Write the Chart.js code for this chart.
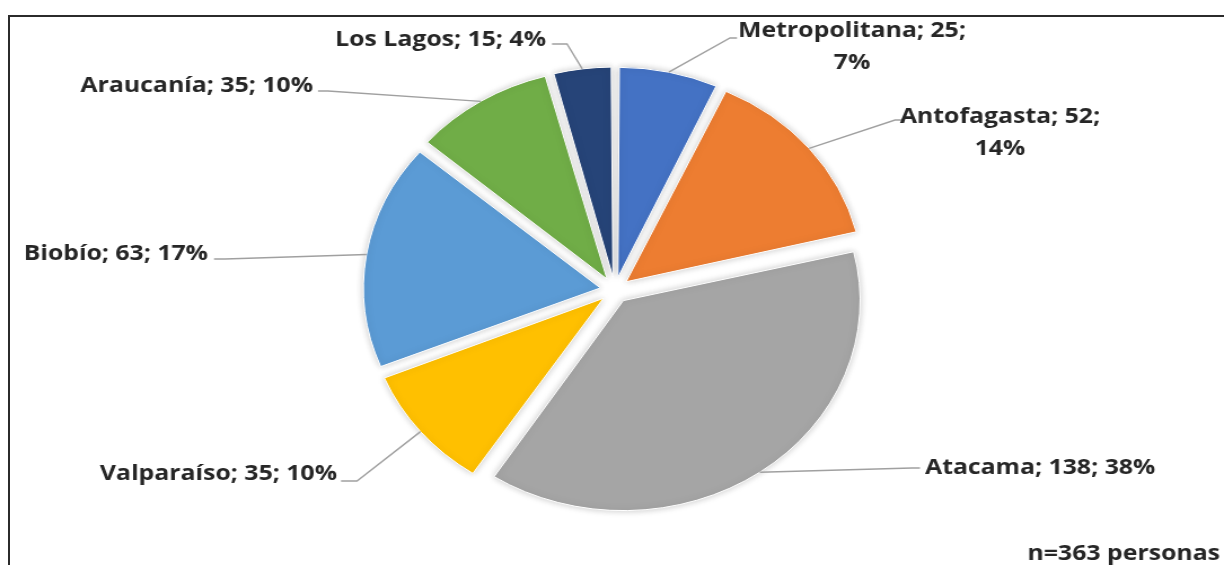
<!DOCTYPE html>
<html>
<head>
<meta charset="utf-8">
<script src="https://cdn.jsdelivr.net/npm/chart.js@4"></script>
<style>
html,body{margin:0;padding:0;background:#fff;width:1224px;height:565px;overflow:hidden}
#frame{position:absolute;left:8px;top:15px;width:1300px;height:700px;border-left:2px solid #2b2b2b;border-top:2px solid #2b2b2b}
#wrap{position:absolute;left:0;top:0;width:1085px;height:565px;transform:scaleX(1.1281);transform-origin:0 0}
</style>
</head>
<body>
<div id="frame"></div>
<div id="wrap"><canvas id="pie"></canvas></div>
<script>
// regiones, en el orden de la torta (desde arriba, sentido horario)
let regions=["Metropolitana","Antofagasta","Atacama","Valparaíso","Biobío","Araucanía","Los Lagos"]
let counts=[25,52,138,35,63,35,15]
let colors=["#4472C4","#ED7D31","#A5A5A5","#FFC000","#5B9BD5","#70AD47","#264478"]
let note="n=363 personas"

// the picture is stretched sideways, so the whole canvas is too
let s=1224/1085
let R=210

// where each label sits, in page pixels (b = baseline of first line)
let labelLayout=[
{tx:852,b:37,align:"center",wrap:true,kx:730,ky:38,ex:737,ey:38},
{tx:1000,b:123,align:"center",wrap:true,kx:895,ky:120,ex:902,ey:120},
{tx:925,b:474,align:"left",kx:912,ky:468,ex:920,ey:468},
{tx:337,b:480,align:"right",kx:357,ky:481,ex:341,ey:481},
{tx:208,b:260,align:"right",kx:225,ky:259,ex:214,ey:259},
{tx:313,b:92,align:"right",kx:328,ky:91,ex:318,ey:91},
{tx:546,b:46,align:"right",kx:567,ky:44,ex:552,ey:44}
]

let total=counts.reduce((a,b)=>a+b,0)

let sliceLabels={
id:"sliceLabels",
afterDatasetUpdate(chart,args){
// chart.js grows small exploded slices; keep every slice at the same radius
args.meta.data.forEach(arc=>{
let off=(arc.options.offset||0)/4
let fix=1-Math.sin(Math.min(Math.PI,arc.circumference))
arc.outerRadius=R-off*fix
})
},
beforeDatasetsDraw(chart){
let ctx=chart.ctx
ctx.save()
ctx.shadowColor="rgba(0,0,0,0.22)"
ctx.shadowBlur=7
},
afterDatasetsDraw(chart){
let ctx=chart.ctx
ctx.restore()
let meta=chart.getDatasetMeta(0)
ctx.save()
ctx.font="bold 22px 'Open Sans'"
ctx.fillStyle="#262626"
meta.data.forEach((arc,i)=>{
let p=arc.getProps(["x","y","startAngle","endAngle"])
let mid=(p.startAngle+p.endAngle)/2
let r=R+arc.options.offset/4
let ax=p.x+Math.cos(mid)*r
let ay=p.y+Math.sin(mid)*r
let L=labelLayout[i]
ctx.strokeStyle="#a0a0a0"
ctx.lineWidth=1.4
ctx.beginPath()
ctx.moveTo(ax,ay)
ctx.lineTo(L.kx/s,L.ky)
ctx.lineTo(L.ex/s,L.ey)
ctx.stroke()
let pct=Math.round(counts[i]/total*100)
let lines=L.wrap?[regions[i]+"; "+counts[i]+";",pct+"%"]:[regions[i]+"; "+counts[i]+"; "+pct+"%"]
ctx.textAlign=L.align
ctx.textBaseline="alphabetic"
lines.forEach((t,j)=>ctx.fillText(t,L.tx/s,L.b+j*32))
})
ctx.textAlign="right"
ctx.fillText(note,1220/s,560)
ctx.restore()
}
}

new Chart(document.getElementById("pie"),{
type:"pie",
data:{
labels:regions,
datasets:[{
data:counts,
backgroundColor:colors,
borderColor:"#fff",
borderWidth:1,
offset:52,
radius:R
}]
},
options:{
responsive:true,
maintainAspectRatio:false,
animation:false,
radius:R,
layout:{padding:{left:55,right:50,top:32,bottom:17}},
plugins:{legend:{display:false},tooltip:{enabled:false}}
},
plugins:[sliceLabels]
})
</script>
</body>
</html>
